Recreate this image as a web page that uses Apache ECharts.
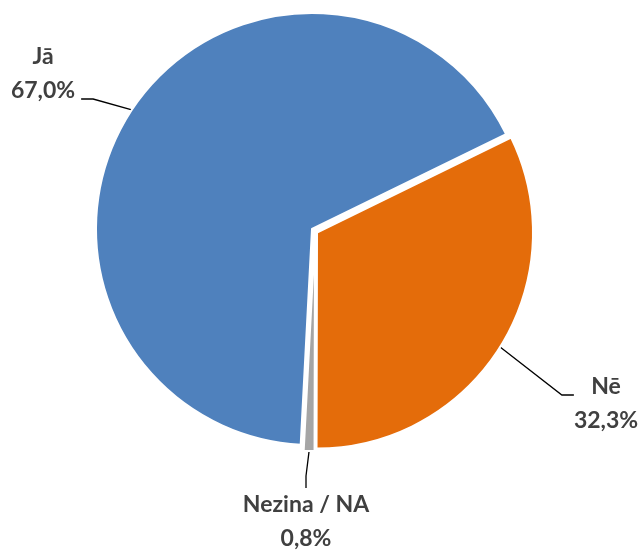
<!DOCTYPE html>
<html>
<head>
<meta charset="utf-8">
<script src="https://cdn.jsdelivr.net/npm/echarts@6/dist/echarts.min.js"></script>
<style>
html,body{margin:0;padding:0;background:#fff;}
#chart{width:642px;height:551px;}
</style>
</head>
<body>
<div id="chart"></div>
<script>
// Data
var categories = ['Jā', 'Nē', 'Nezina / NA'];
var values = [67.0, 32.3, 0.8];
var colors = ['#4F81BD', '#E46C0A', '#A5A5A5'];

// Layout / style (not data)
var pieCenter = [312, 229];
var pieRadius = 216;
var explodeShift = [[0, 0], [5, 3.5], [3, 6]];   // px each slice is pulled out
var labelPos = [
  { x: 46, y: 40, pad: [0, 6, 50, 0] },
  { x: 606, y: 352, pad: [18, 0, 0, 0] },
  { x: 306, y: 488, pad: [0, 0, 0, 0] }
];
var START_ANGLE = 267;

function fmt(v) { return v.toFixed(1).replace('.', ',') + '%'; }

var series = categories.map(function (cat, k) {
  return {
    type: 'pie',
    center: [pieCenter[0] + explodeShift[k][0], pieCenter[1] + explodeShift[k][1]],
    radius: pieRadius,
    startAngle: START_ANGLE,
    clockwise: true,
    avoidLabelOverlap: false,
    silent: true,
    z: 2 + k,
    label: {
      show: true,
      position: 'outside',
      fontFamily: 'Lato',
      fontWeight: 'bold',
      fontSize: 23,
      lineHeight: 34,
      color: '#404040',
      align: 'center',
      backgroundColor: 'rgba(255,255,255,0)',
      formatter: function (p) { return p.name + '\n' + fmt(p.value); }
    },
    labelLine: {
      show: true,
      length: 20,
      length2: 12,
      lineStyle: { color: '#000000', width: 1.3 }
    },
    labelLayout: function (params) {
      var lp = labelPos[params.dataIndex];
      return { x: lp.x, y: lp.y, align: 'center', verticalAlign: 'top' };
    },
    data: categories.map(function (c, i) {
      var vis = (i === k);
      return {
        name: c,
        value: values[i],
        itemStyle: vis
          ? { color: colors[i], borderColor: '#ffffff', borderWidth: 2 }
          : { color: 'rgba(0,0,0,0)', borderWidth: 0 },
        label: vis ? { show: true, padding: labelPos[i].pad } : { show: false },
        labelLine: { show: vis }
      };
    })
  };
});

var chart = echarts.init(document.getElementById('chart'), null, { renderer: 'canvas' });
chart.setOption({
  animation: false,
  backgroundColor: '#ffffff',
  series: series
});
</script>
</body>
</html>
